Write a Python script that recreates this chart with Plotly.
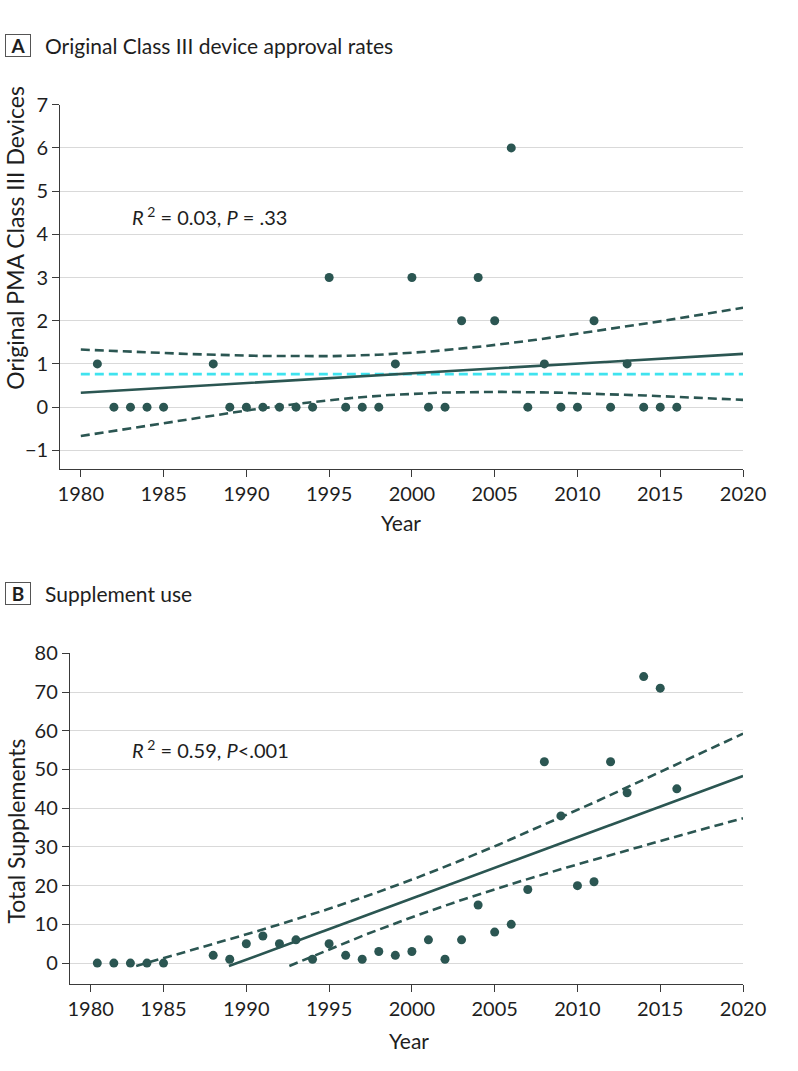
import numpy as np
import plotly.graph_objects as go

# ---------------- data ----------------
years = [1981, 1982, 1983, 1984, 1985, 1988, 1989, 1990, 1991, 1992, 1993, 1994,
         1995, 1996, 1997, 1998, 1999, 2000, 2001, 2002, 2003, 2004, 2005, 2006,
         2007, 2008, 2009, 2010, 2011, 2012, 2013, 2014, 2015, 2016]
original_devices = [1, 0, 0, 0, 0, 1, 0, 0, 0, 0, 0, 0,
                    3, 0, 0, 0, 1, 3, 0, 0, 2, 3, 2, 6,
                    0, 1, 0, 0, 2, 0, 1, 0, 0, 0]
total_supplements = [0, 0, 0, 0, 0, 2, 1, 5, 7, 5, 6, 1,
                     5, 2, 1, 3, 2, 3, 6, 1, 6, 15, 8, 10,
                     19, 52, 38, 20, 21, 52, 44, 74, 71, 45]
x_ticks = [1980, 1985, 1990, 1995, 2000, 2005, 2010, 2015, 2020]
yA_ticks = [-1, 0, 1, 2, 3, 4, 5, 6, 7]
yB_ticks = [0, 10, 20, 30, 40, 50, 60, 70, 80]
stat_A = "<i>R</i><sup> 2</sup> = 0.03, <i>P</i> = .33"
stat_B = "<i>R</i><sup> 2</sup> = 0.59, <i>P</i>&lt;.001"
T_CRIT = 2.037  # t(0.975, df=32)

# ---------------- styling ----------------
W, H = 798, 1071
DARK = "#2b5652"
CYAN = "#3fe3ef"
GRID = "#d9d9d9"
AXIS = "#3a3a3a"
TXT = "#1e1e1e"
FONT = "Lato"
TICK_SIZE = 20
TITLE_SIZE = 21
YTITLE_SIZE = 23


def fit_with_ci(x, y, xs):
    x = np.asarray(x, float)
    y = np.asarray(y, float)
    b, a = np.polyfit(x, y, 1)
    n = len(x)
    resid = y - (a + b * x)
    s = np.sqrt(np.sum(resid ** 2) / (n - 2))
    sxx = np.sum((x - x.mean()) ** 2)
    yhat = a + b * xs
    se = s * np.sqrt(1.0 / n + (xs - x.mean()) ** 2 / sxx)
    return yhat, yhat - T_CRIT * se, yhat + T_CRIT * se


def clip(arr, lo):
    out = arr.astype(object)
    out[arr < lo] = None
    return list(out)


def px_x(p):
    return p / W


def px_y(p):
    return 1 - p / H


xs = np.linspace(1980, 2020, 801)
fitA, loA, hiA = fit_with_ci(years, original_devices, xs)
fitB, loB, hiB = fit_with_ci(years, total_supplements, xs)
meanA = float(np.mean(original_devices))

DASH = "9px,5px"
fig = go.Figure()

# ---- Panel A ----
fig.add_trace(go.Scatter(x=xs, y=hiA, mode="lines", xaxis="x", yaxis="y",
                         line=dict(color=DARK, width=2.6, dash=DASH), hoverinfo="skip"))
fig.add_trace(go.Scatter(x=xs, y=loA, mode="lines", xaxis="x", yaxis="y",
                         line=dict(color=DARK, width=2.6, dash=DASH), hoverinfo="skip"))
fig.add_trace(go.Scatter(x=[xs[0], xs[-1]], y=[meanA, meanA], mode="lines", xaxis="x", yaxis="y",
                         line=dict(color=CYAN, width=2.6, dash=DASH), hoverinfo="skip"))
fig.add_trace(go.Scatter(x=xs, y=fitA, mode="lines", xaxis="x", yaxis="y",
                         line=dict(color=DARK, width=2.6), hoverinfo="skip"))
fig.add_trace(go.Scatter(x=years, y=original_devices, mode="markers", xaxis="x", yaxis="y",
                         marker=dict(color=DARK, size=9)))

# ---- Panel B ----
CUT = -0.8
fig.add_trace(go.Scatter(x=xs, y=clip(hiB, CUT), mode="lines", xaxis="x2", yaxis="y2",
                         line=dict(color=DARK, width=2.6, dash=DASH), hoverinfo="skip"))
fig.add_trace(go.Scatter(x=xs, y=clip(loB, CUT), mode="lines", xaxis="x2", yaxis="y2",
                         line=dict(color=DARK, width=2.6, dash=DASH), hoverinfo="skip"))
fig.add_trace(go.Scatter(x=xs, y=clip(fitB, CUT), mode="lines", xaxis="x2", yaxis="y2",
                         line=dict(color=DARK, width=2.6), hoverinfo="skip"))
fig.add_trace(go.Scatter(x=years, y=total_supplements, mode="markers", xaxis="x2", yaxis="y2",
                         marker=dict(color=DARK, size=9)))

axis_common = dict(showline=True, linecolor=AXIS, linewidth=1, ticks="outside",
                   ticklen=7, tickcolor=AXIS, tickwidth=1, zeroline=False,
                   tickfont=dict(family=FONT, size=TICK_SIZE, color=TXT))

fig.update_layout(
    width=W, height=H, margin=dict(l=0, r=0, t=0, b=0),
    paper_bgcolor="white", plot_bgcolor="white", showlegend=False,
    font=dict(family=FONT, color=TXT),
    xaxis=dict(domain=[px_x(60), px_x(765)], range=[1978.75, 2020], anchor="y",
               tickvals=x_ticks, showgrid=False, **axis_common),
    yaxis=dict(domain=[px_y(461.7), px_y(92.8)], range=[-1.434, 7], anchor="x",
               tickvals=yA_ticks, showgrid=True, gridcolor=GRID, gridwidth=1.3,
               **axis_common),
    xaxis2=dict(domain=[px_x(70), px_x(765)], range=[1979.34, 2020], anchor="y2",
                tickvals=[1980.6] + x_ticks[1:], ticktext=[str(t) for t in x_ticks],
                showgrid=False, **axis_common),
    yaxis2=dict(domain=[px_y(983.3), px_y(648.2)], range=[-5.5, 80], anchor="x2",
                tickvals=yB_ticks, showgrid=True, gridcolor=GRID, gridwidth=1.3,
                **axis_common),
)


def label(text, x, y, size, xanchor="left", angle=0):
    return dict(text=text, x=px_x(x), y=px_y(y), xref="paper", yref="paper",
                xanchor=xanchor, yanchor="middle", showarrow=False, textangle=angle,
                font=dict(family=FONT, size=size, color=TXT))


annotations = [
    dict(text="<b>A</b>", x=px_x(3), y=px_y(21), xref="paper", yref="paper",
         xanchor="left", yanchor="top", showarrow=False, width=20, height=17,
         borderpad=2, bordercolor="#555", borderwidth=1,
         font=dict(family=FONT, size=19, color=TXT)),
    label("Original Class III device approval rates", 42, 33, 21),
    dict(text="<b>B</b>", x=px_x(3), y=px_y(576), xref="paper", yref="paper",
         xanchor="left", yanchor="top", showarrow=False, width=20, height=17,
         borderpad=2, bordercolor="#555", borderwidth=1,
         font=dict(family=FONT, size=19, color=TXT)),
    label("Supplement use", 42, 588, 21),
    label(stat_A, 132, 205, 20),
    label(stat_B, 132, 745, 20),
    label("Original PMA Class III Devices", 14, 228, YTITLE_SIZE, xanchor="center", angle=-90),
    label("Total Supplements", 14, 828, YTITLE_SIZE, xanchor="center", angle=-90),
    label("Year", 412, 516, TITLE_SIZE, xanchor="center"),
    label("Year", 420, 1040, TITLE_SIZE, xanchor="center"),
]
fig.update_layout(annotations=annotations)

fig.write_html("out.html", config={"displayModeBar": False},
               post_script="document.body.style.margin='0';")
